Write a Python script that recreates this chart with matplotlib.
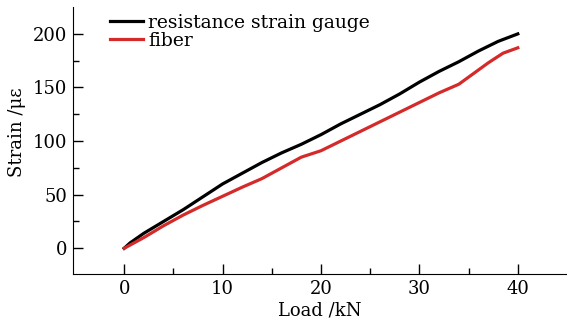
import matplotlib
matplotlib.use("Agg")
import matplotlib.pyplot as plt
from matplotlib.ticker import FixedLocator

load_gauge = [0, 0.6, 2, 4, 6, 8, 10, 12, 14, 16, 18, 20, 22, 24, 26, 28, 30, 32, 34, 36, 38, 40]
strain_gauge = [0, 5, 14, 25, 36, 48, 60, 70, 80, 89, 97, 106, 116, 125, 134, 144, 155, 165, 174, 184, 193, 200]

load_fiber = [0, 1, 2, 4, 6, 8, 10, 12, 14, 16, 18, 20, 22, 24, 26, 28, 30, 32, 34, 35.5, 37, 38.5, 40]
strain_fiber = [0, 5, 10, 21, 31, 40, 48.5, 57, 65, 75, 85, 91, 100, 109, 118, 127, 136, 145, 153, 163, 173, 182, 187]

xticks = [0, 10, 20, 30, 40]
yticks = [0, 50, 100, 150, 200]
xminor = [5, 15, 25, 35]
yminor = [25, 75, 125, 175]

plt.rcParams['font.family'] = ['DejaVu Serif']
fs = 13

fig = plt.figure(figsize=(5.67, 3.22), dpi=100)
ax = fig.add_axes([0.1287, 0.149, 0.8713, 0.829])

ax.plot(load_gauge, strain_gauge, color='black', lw=2.3, label='resistance strain gauge')
ax.plot(load_fiber, strain_fiber, color='#d42a2a', lw=2.3, label='fiber')

ax.set_xlim(-5.2, 45)
ax.set_ylim(-24, 225)
ax.set_xticks(xticks)
ax.set_yticks(yticks)
ax.xaxis.set_minor_locator(FixedLocator(xminor))
ax.yaxis.set_minor_locator(FixedLocator(yminor))
ax.tick_params(which='major', direction='in', length=7, width=1, labelsize=fs, pad=4)
ax.tick_params(which='minor', direction='in', length=4, width=1)
for s in ['top', 'right']:
    ax.spines[s].set_visible(False)

ax.set_xlabel('Load /kN', fontsize=fs, labelpad=3)
ax.set_ylabel('Strain /με', fontsize=fs)
ax.yaxis.set_label_coords(-0.095, 0.53)

ax.legend(loc='upper left', bbox_to_anchor=(0.075, 0.975), frameon=False, fontsize=13.5,
          handlelength=1.75, handletextpad=0.3, labelspacing=0.0, borderaxespad=0, borderpad=0)

fig.savefig('out.png', dpi=100)
